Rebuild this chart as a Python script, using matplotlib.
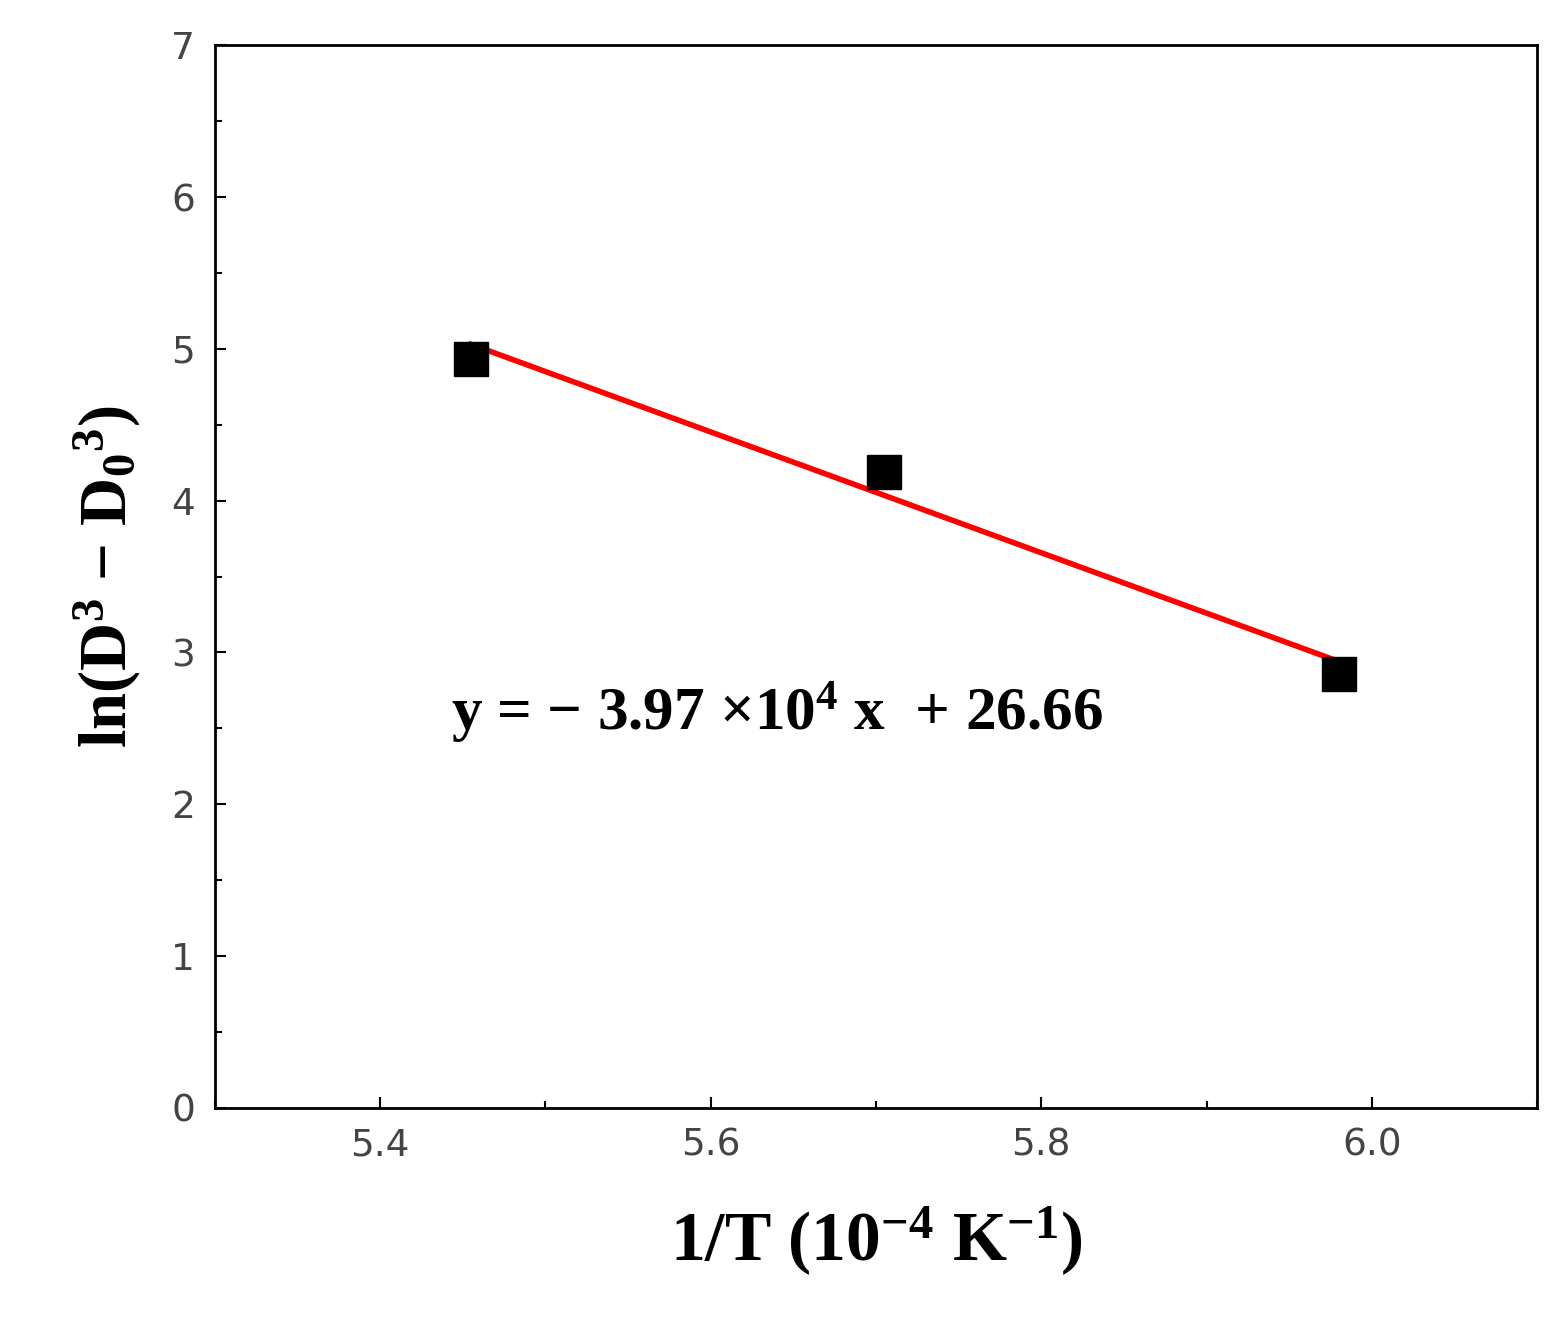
import matplotlib
matplotlib.use("Agg")
import matplotlib.pyplot as plt
from matplotlib.ticker import MultipleLocator

plt.rcParams['mathtext.fontset'] = 'custom'
plt.rcParams['mathtext.rm'] = 'Liberation Serif:bold'
plt.rcParams['mathtext.it'] = 'Liberation Serif:bold'
plt.rcParams['mathtext.bf'] = 'Liberation Serif:bold'

x_pts = [5.455, 5.705, 5.98]
y_pts = [4.93, 4.19, 2.86]
fit_x = [5.455, 5.98]
fit_y = [5.03, 2.94]

fig = plt.figure(figsize=(15.67, 13.33), dpi=100)
ax = fig.add_axes([0.137, 0.169, 0.844, 0.797])
ax.plot(fit_x, fit_y, color='red', lw=4)
ax.plot(x_pts, y_pts, 's', color='black', ms=24)
ax.set_xlim(5.30, 6.10)
ax.set_ylim(0, 7)
ax.xaxis.set_minor_locator(MultipleLocator(0.1))
ax.yaxis.set_major_locator(MultipleLocator(1))
ax.yaxis.set_minor_locator(MultipleLocator(0.5))
ax.set_xticks([5.4, 5.6, 5.8, 6.0])
ax.set_xticklabels(['5.4', '5.6', '5.8', '6.0'])
ax.tick_params(which='both', direction='in', labelsize=27, labelcolor='#444444', width=1.5, pad=14)
ax.tick_params(which='major', length=8)
ax.tick_params(which='minor', length=5)
for s in ax.spines.values():
    s.set_linewidth(2)
ax.set_xlabel(r'1/T (10$^{-4}$ K$^{-1}$)', fontsize=50, fontweight='bold', family='Liberation Serif', labelpad=30)
ax.set_ylabel(r'ln(D$^3$ − D$_0$$^3$)', fontsize=48, fontweight='bold', family='Liberation Serif', labelpad=20)
ax.text(5.64, 2.6, r'y = − 3.97 ×10$^4$ x  + 26.66', fontsize=44, fontweight='bold',
        family='Liberation Serif', ha='center', va='center')
fig.savefig('out.png', dpi=100)
